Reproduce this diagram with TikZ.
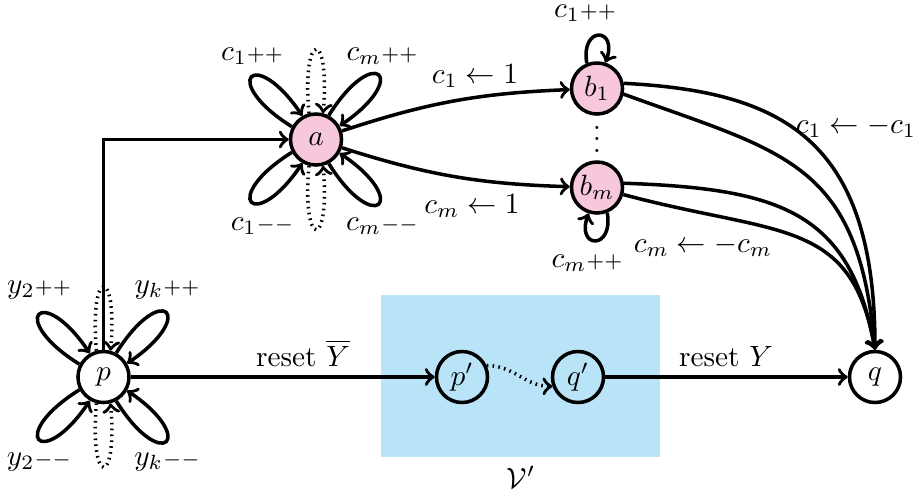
\documentclass[tikz,border=0pt]{standalone}
\usetikzlibrary{arrows}
\definecolor{nodepink}{RGB}{247,200,220}
\definecolor{boxblue}{RGB}{185,228,248}
\newcommand{\pp}{{\scriptstyle ++}}
\newcommand{\mm}{{\scriptstyle --}}
\begin{document}
\begin{tikzpicture}[x=0.341pt,y=0.341pt,line width=1.2pt,>=to,
  st/.style={circle,draw,minimum size=17.4pt,inner sep=0pt},
  pst/.style={st,fill=nodepink},
  lbl/.style={inner sep=0pt,anchor=base},
  dots/.style={dash pattern=on 0.55pt off 1.45pt},
  petal/.style={->},
  dpetal/.style={->,dots}]
\useasboundingbox (0,0) rectangle (922,497);
\node[fill=boxblue,minimum width=95.1pt,minimum height=55.2pt,inner sep=0pt] (box) at (520.5,121) {};
\node[lbl] (vlab) at (521,9) {$\mathcal{V}'$};

\node[pst] (a) at (316,357.5) {$a$};
\node[pst] (b1) at (597,408.5) {$b_1$};
\node[pst] (bm) at (597,309.5) {$b_m$};
\node[st] (p) at (103.5,120) {$p$};
\node[st] (pp) at (462,120) {$p'$};
\node[st] (qq) at (578,120) {$q'$};
\node[st] (q) at (875,120) {$q$};
\node[inner sep=0pt,text height=9.2pt,text depth=0pt] (vd) at (597,358) {$\vdots$};

% petals of a
\draw[petal] (a.152) to[out=148,in=124,distance=29.5pt] (a.120);
\draw[petal] (a.62) to[out=58,in=34,distance=29.5pt] (a.30);
\draw[petal] (a.208) to[out=212,in=236,distance=29.5pt] (a.240);
\draw[petal] (a.298) to[out=302,in=326,distance=29.5pt] (a.330);
\draw[dpetal] (a.105) to[out=95,in=85,distance=29pt] (a.75);
\draw[dpetal] (a.255) to[out=265,in=275,distance=29pt] (a.285);
\node[lbl] (la1) at (252,437) {$c_1\pp$};
\node[lbl] (la2) at (382,437) {$c_m\pp$};
\node[lbl] (la3) at (262,267) {$c_1\mm$};
\node[lbl] (la4) at (382,267) {$c_m\mm$};

% petals of p
\draw[petal] (p.152) to[out=148,in=124,distance=29.5pt] (p.120);
\draw[petal] (p.62) to[out=58,in=34,distance=29.5pt] (p.30);
\draw[petal] (p.208) to[out=212,in=236,distance=29.5pt] (p.240);
\draw[petal] (p.298) to[out=302,in=326,distance=29.5pt] (p.330);
\draw[dpetal] (p.105) to[out=95,in=85,distance=29pt] (p.75);
\draw[dpetal] (p.255) to[out=265,in=275,distance=29pt] (p.285);
\node[lbl] (lp1) at (39,204) {$y_2\pp$};
\node[lbl] (lp2) at (167,204) {$y_k\pp$};
\node[lbl] (lp3) at (39,32) {$y_2\mm$};
\node[lbl] (lp4) at (167,32) {$y_k\mm$};

% b loops
\draw[->] (b1.112) to[out=100,in=70,distance=13pt] (b1.72);
\node[lbl] (lb1) at (585,480) {$c_1\pp$};
\draw[->] (bm.-68) to[out=-80,in=-110,distance=13pt] (bm.-108);
\node[lbl] (lbm) at (587,230) {$c_m\pp$};

% edges
\draw[->] (p) |- (a);
\draw[->] (a) to[bend left=8] (b1);
\node[lbl] (lab1) at (475,414) {$c_1 \leftarrow 1$};
\draw[->] (a) to[bend right=8] (bm);
\node[lbl] (labm) at (472,284) {$c_m \leftarrow 1$};

\draw[->] (b1.11) to[out=-3,in=90,out distance=54pt,in distance=72pt] (q.north);
\draw[->] (b1.-12) to[out=-20,in=95,out distance=58.7pt,in distance=64.4pt] (q.north);
\draw[->] (bm.9) to[out=-2,in=100,out distance=53pt,in distance=48pt] (q.north);
\draw[->] (bm.-15) to[out=-15,in=100,out distance=55pt,in distance=46pt] (q.north);
\node[lbl] (lq1) at (856,364) {$c_1 \leftarrow -c_1$};
\node[lbl] (lqm) at (703,245) {$c_m \leftarrow -c_m$};

\draw[->] (p) -- (pp);
\node[lbl] (lr1) at (303,131) {reset $\overline{Y}$};
\draw[->,dots] (pp.25) to[out=0,in=180] (qq.200);
\draw[->] (qq) -- (q);
\node[lbl] (lr2) at (726,131) {reset $Y$};
\end{tikzpicture}
\end{document}
